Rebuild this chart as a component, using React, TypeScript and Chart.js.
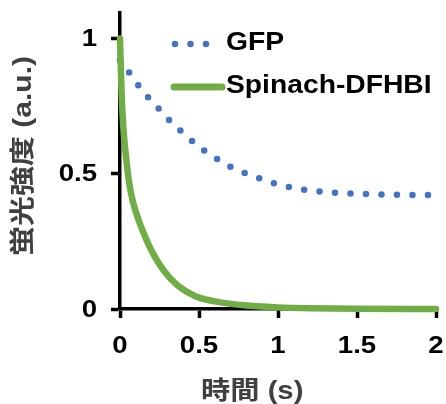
import React, { useEffect, useRef } from "react";
import { Chart, registerables } from "chart.js";

Chart.register(...registerables);

// ---- data ----
const seriesNames = ["GFP", "Spinach-DFHBI"];
const xTitle = "時間 (s)";
const yTitle = "蛍光強度 (a.u.)";

const gfpTimes = [0, 0.05, 0.1, 0.15, 0.2, 0.3, 0.4, 0.5, 0.6, 0.7, 0.8, 0.9, 1.0, 1.1, 1.2, 1.3, 1.4, 1.5, 1.6, 1.7, 1.8, 1.9, 1.95];
const gfpValues = [0.92, 0.88, 0.84, 0.8, 0.77, 0.705, 0.65, 0.6, 0.56, 0.525, 0.5, 0.48, 0.46, 0.447, 0.438, 0.432, 0.428, 0.426, 0.424, 0.423, 0.422, 0.421, 0.421];

const spinachTimes = [0, 0.01, 0.02, 0.035, 0.057, 0.08, 0.117, 0.15, 0.2, 0.25, 0.3, 0.35, 0.4, 0.46, 0.5, 0.6, 0.7, 0.8, 0.9, 1.0, 1.2, 1.5, 2.0];
const spinachValues = [1.0, 0.8, 0.68, 0.58, 0.47, 0.4, 0.33, 0.28, 0.215, 0.165, 0.125, 0.095, 0.072, 0.052, 0.042, 0.028, 0.019, 0.013, 0.009, 0.006, 0.003, 0.001, 0.0];

const xTickValues = [0, 0.5, 1, 1.5, 2];
const yTickValues = [0, 0.5, 1];

const BLUE = "#4472C4";
const GREEN = "#70AD47";
const FONT_STACK = '"Liberation Sans", "Noto Sans CJK JP", sans-serif';

function drawStretched(
  ctx: CanvasRenderingContext2D,
  text: string,
  x: number,
  y: number,
  size: number,
  sx: number,
  align: CanvasTextAlign,
  color: string,
  rot = 0
) {
  ctx.save();
  ctx.translate(x, y);
  if (rot) ctx.rotate(rot);
  ctx.scale(sx, 1);
  ctx.font = `bold ${size}px ${FONT_STACK}`;
  ctx.fillStyle = color;
  ctx.textAlign = align;
  ctx.textBaseline = "middle";
  ctx.fillText(text, 0, 0);
  ctx.restore();
}

const textPlugin = {
  id: "textPlugin",
  afterDraw(chart: any) {
    const ctx: CanvasRenderingContext2D = chart.ctx;
    const xs = chart.scales.x;
    const ys = chart.scales.y;
    // tick labels
    xs.ticks.forEach((t: any) => {
      const px = xs.getPixelForValue(t.value);
      drawStretched(ctx, String(t.value), px, 346, 24, 1.15, "center", "#000");
    });
    ys.ticks.forEach((t: any) => {
      const py = ys.getPixelForValue(t.value);
      drawStretched(ctx, String(t.value), 97, py + 1, 24, 1.15, "right", "#000");
    });
    // axis titles
    drawStretched(ctx, xTitle, 201, 392, 25, 1.17, "left", "#404040");
    drawStretched(ctx, yTitle, 24, 256, 25, 1.2, "left", "#404040", -Math.PI / 2);
    // legend
    const ca = chart.chartArea;
    const lx = ca.left + 55;
    ctx.save();
    ctx.lineCap = "round";
    ctx.strokeStyle = BLUE;
    ctx.lineWidth = 6.5;
    ctx.setLineDash([0, 15.5]);
    ctx.beginPath();
    ctx.moveTo(lx, 44);
    ctx.lineTo(lx + 32, 44);
    ctx.stroke();
    ctx.setLineDash([]);
    ctx.strokeStyle = GREEN;
    ctx.lineWidth = 7;
    ctx.beginPath();
    ctx.moveTo(lx - 1, 87);
    ctx.lineTo(lx + 47, 87);
    ctx.stroke();
    ctx.restore();
    drawStretched(ctx, seriesNames[0], lx + 51, 43, 25, 1.13, "left", "#000");
    drawStretched(ctx, seriesNames[1], lx + 51, 86, 25, 1.13, "left", "#000");
  },
};

export default function App() {
  const ref = useRef<HTMLCanvasElement | null>(null);
  useEffect(() => {
    if (!ref.current) return;
    const gfpData = gfpTimes.map((t, i) => ({ x: t, y: gfpValues[i] }));
    const spinachData = spinachTimes.map((t, i) => ({ x: t, y: spinachValues[i] }));
    const axisCommon = {
      ticks: { display: false },
      grid: {
        drawOnChartArea: false,
        drawTicks: true,
        tickLength: 9,
        tickWidth: 3.5,
        tickColor: "#000",
      },
      border: { display: true, color: "#000", width: 3.5 },
    };
    const chart = new Chart(ref.current, {
      type: "line",
      data: {
        datasets: [
          {
            label: seriesNames[1],
            data: spinachData,
            borderColor: GREEN,
            backgroundColor: GREEN,
            borderWidth: 6.5,
            pointRadius: 0,
            cubicInterpolationMode: "monotone",
            borderCapStyle: "round",
            borderJoinStyle: "round",
            clip: 10,
            order: 0,
          } as any,
          {
            label: seriesNames[0],
            data: gfpData,
            borderColor: BLUE,
            backgroundColor: BLUE,
            borderWidth: 6.5,
            borderDash: [0, 15.5],
            borderCapStyle: "round",
            pointRadius: 0,
            cubicInterpolationMode: "monotone",
            clip: 10,
            order: 1,
          } as any,
        ],
      },
      options: {
        responsive: false,
        animation: false,
        devicePixelRatio: 1,
        layout: { padding: { top: 13, right: 10, left: 0, bottom: 0 } },
        plugins: { legend: { display: false }, tooltip: { enabled: false } },
        scales: {
          x: {
            type: "linear",
            min: 0,
            max: 2,
            ...axisCommon,
            afterBuildTicks: (s: any) => {
              s.ticks = xTickValues.map((v) => ({ value: v }));
            },
            afterFit: (s: any) => {
              s.height = 95;
            },
          } as any,
          y: {
            type: "linear",
            min: 0,
            max: 1.094,
            ...axisCommon,
            afterBuildTicks: (s: any) => {
              s.ticks = yTickValues.map((v) => ({ value: v }));
            },
            afterFit: (s: any) => {
              s.width = 120;
            },
          } as any,
        },
      },
      plugins: [textPlugin],
    });
    return () => chart.destroy();
  }, []);
  return (
    <div style={{ position: "fixed", left: 0, top: 0, width: 446, height: 404, background: "#fff" }}>
      <canvas ref={ref} width={446} height={404} />
    </div>
  );
}
